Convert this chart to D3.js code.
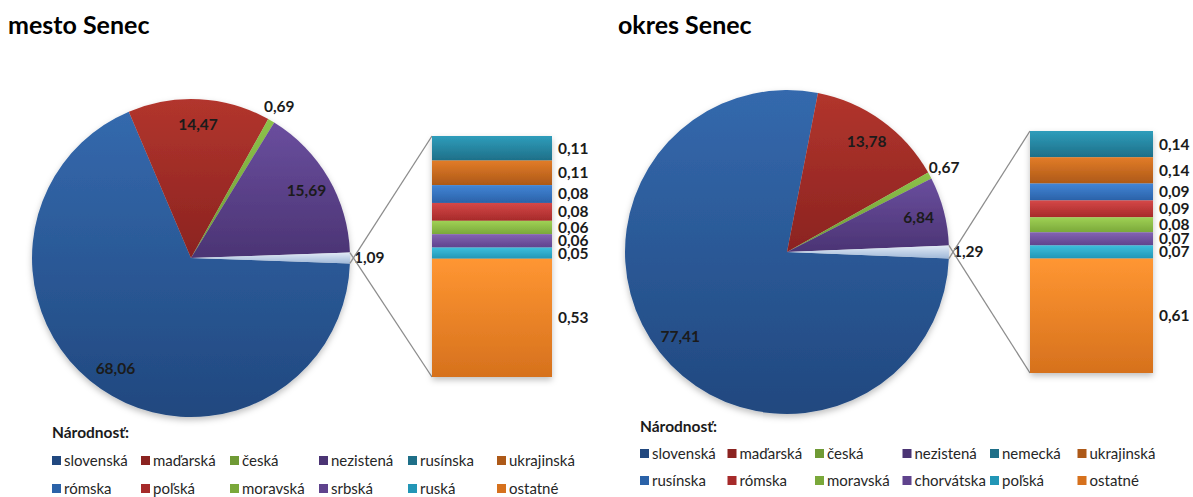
<!DOCTYPE html>
<html lang="sk">
<head>
  <meta charset="UTF-8" />
  <title>Národnosť – mesto Senec, okres Senec</title>
  <script src="https://d3js.org/d3.v7.min.js"></script>
  <style>
    body {
      margin: 0;
      background: #fff;
      font-family: Lato, 'Open Sans', sans-serif;
    }
    svg { display: block; }
    .title { font-weight: 700; font-size: 25px; fill: #000; }
    .lbl { font-weight: 700; font-size: 15.5px; fill: #1b1b1b; }
    .leg { font-size: 15px; fill: #262626; }
    .legtitle { font-weight: 700; font-size: 15.5px; fill: #1b1b1b; }
  </style>
</head>
<body>
  <div id="chart"></div>

  <script>
    // pie part: the last slice is the "other" group that is broken out into the bar
    const pieCats = ["slovenská", "maďarská", "česká", "nezistená", "ostatné spolu"];
    const mestoPie = [68.06, 14.47, 0.69, 15.69, 1.09];
    const okresPie = [77.41, 13.78, 0.67, 6.84, 1.29];

    // bar part (top to bottom)
    const mestoBarCats = ["rusínska", "ukrajinská", "rómska", "poľská", "moravská", "srbská", "ruská", "ostatné"];
    const mestoBar = [0.11, 0.11, 0.08, 0.08, 0.06, 0.06, 0.05, 0.53];
    const okresBarCats = ["nemecká", "ukrajinská", "rusínska", "rómska", "moravská", "chorvátska", "poľská", "ostatné"];
    const okresBar = [0.14, 0.14, 0.09, 0.09, 0.08, 0.07, 0.07, 0.61];

    // colours: [top, bottom] of each gradient
    const pieColors = [["#3469ad", "#21487f"], ["#b2352d", "#8b2320"], ["#8cc24a", "#6f9a35"], ["#6a4e9e", "#4b3474"], ["#e2ebf6", "#9fb8d8"]];
    const barColors = [["#2f9dbb", "#1e6f88"], ["#e27c28", "#ad5918"], ["#4285d6", "#2b62a8"], ["#d54848", "#a62a2a"],
                       ["#9fd155", "#7aa83a"], ["#8463b3", "#5f438d"], ["#3cbfdd", "#2296b6"], ["#ff9632", "#d6711d"]];

    const W = 1193, H = 497;
    const svg = d3.select("#chart").append("svg").attr("width", W).attr("height", H);
    const defs = svg.append("defs");

    const shadow = defs.append("filter").attr("id", "shadow")
      .attr("x", "-10%").attr("y", "-10%").attr("width", "120%").attr("height", "125%");
    shadow.append("feDropShadow").attr("dx", 0).attr("dy", 3).attr("stdDeviation", 3)
      .attr("flood-color", "#000").attr("flood-opacity", 0.25);

    function grad(id, c) {
      const g = defs.append("linearGradient").attr("id", id)
        .attr("x1", 0).attr("y1", 0).attr("x2", 0).attr("y2", 1);
      g.append("stop").attr("offset", "0%").attr("stop-color", c[0]);
      g.append("stop").attr("offset", "100%").attr("stop-color", c[1]);
    }
    pieColors.forEach((c, i) => grad("pg" + i, c));
    barColors.forEach((c, i) => grad("bg" + i, c));

    const fmt = v => v.toFixed(2).replace(".", ",");

    function drawChart(o) {
      const g = svg.append("g");
      g.append("text").attr("class", "title").attr("x", o.titleX).attr("y", 34).text(o.title);

      const total = d3.sum(o.pie);
      const otherAngle = o.pie[o.pie.length - 1] / total * 2 * Math.PI;
      const start = Math.PI / 2 + otherAngle / 2;
      const pie = d3.pie().sort(null).value(d => d).startAngle(start).endAngle(start + 2 * Math.PI);
      const arcs = pie(o.pie);
      const arc = d3.arc().innerRadius(0).outerRadius(o.r);

      const pg = g.append("g").attr("transform", `translate(${o.cx},${o.cy})`);
      pg.append("g").attr("filter", "url(#shadow)")
        .selectAll("path").data(arcs).join("path")
        .attr("d", arc)
        .attr("fill", (d, i) => `url(#pg${i})`);

      // labels: big slices inside, small ones outside
      const inner = d3.arc().innerRadius(o.r * 0.84).outerRadius(o.r * 0.84);
      const outer = d3.arc().innerRadius(o.r * 1.1).outerRadius(o.r * 1.1);
      arcs.forEach((d, i) => {
        const last = i === arcs.length - 1;
        let p, anchor = "middle";
        if (last) { p = [o.r + 4, 0]; anchor = "start"; }
        else if (d.data < 3) p = outer.centroid(d);
        else p = inner.centroid(d);
        pg.append("text").attr("class", "lbl")
          .attr("x", p[0]).attr("y", p[1]).attr("dy", "0.35em")
          .attr("text-anchor", anchor).text(fmt(d.data));
      });

      // bar of the broken-out slice
      const y = d3.scaleLinear().domain([0, d3.sum(o.bar)]).range([o.barTop, o.barTop + o.barH]);
      const stack = d3.cumsum(o.bar);
      const segs = o.bar.map((v, i) => ({ v, y0: stack[i] - v, y1: stack[i], i }));

      // connector lines from slice edge to bar corners
      const last = arcs[arcs.length - 1];
      const ends = [last.startAngle, last.endAngle].map(a => [o.cx + o.r * Math.sin(a), o.cy - o.r * Math.cos(a)]);
      g.append("line").attr("x1", ends[1][0]).attr("y1", ends[1][1]).attr("x2", o.barX).attr("y2", y(0))
        .attr("stroke", "#8c8c8c").attr("stroke-width", 1.3);
      g.append("line").attr("x1", ends[0][0]).attr("y1", ends[0][1]).attr("x2", o.barX).attr("y2", y(d3.sum(o.bar)))
        .attr("stroke", "#8c8c8c").attr("stroke-width", 1.3);

      const bg = g.append("g").attr("filter", "url(#shadow)");
      bg.selectAll("rect").data(segs).join("rect")
        .attr("x", o.barX).attr("width", o.barW)
        .attr("y", d => y(d.y0)).attr("height", d => y(d.y1) - y(d.y0))
        .attr("fill", d => `url(#bg${d.i})`);

      g.selectAll(".blbl").data(segs).join("text")
        .attr("class", "lbl")
        .attr("x", o.barX + o.barW + 6)
        .attr("y", d => (y(d.y0) + y(d.y1)) / 2).attr("dy", "0.35em")
        .text(d => fmt(d.v));

      // legend: pie categories (without the group) followed by bar categories, 6 per row
      const legItems = pieCats.slice(0, 4).map((c, i) => ({ name: c, color: pieColors[i][1] }))
        .concat(o.barCats.map((c, i) => ({ name: c, color: barColors[i][1] })));
      g.append("text").attr("class", "legtitle").attr("x", o.legX).attr("y", o.legY).text("Národnosť:");
      const lg = g.selectAll(".legitem").data(legItems).join("g")
        .attr("transform", (d, i) => `translate(${o.legX + (i % 6) * o.colW},${o.legY + o.rowGap * (1 + Math.floor(i / 6))})`);
      lg.append("rect").attr("x", 0).attr("y", -10).attr("width", 9).attr("height", 9).attr("fill", d => d.color);
      lg.append("text").attr("class", "leg").attr("x", 12).attr("y", 0).text(d => d.name);
    }

    drawChart({
      title: "mesto Senec", titleX: 8,
      pie: mestoPie, cx: 191, cy: 258, r: 159,
      bar: mestoBar, barCats: mestoBarCats, barX: 432, barW: 120, barTop: 136, barH: 241,
      legX: 52, legY: 438, rowGap: 28, colW: 89
    });
    drawChart({
      title: "okres Senec", titleX: 618,
      pie: okresPie, cx: 787, cy: 252, r: 162,
      bar: okresBar, barCats: okresBarCats, barX: 1030, barW: 123, barTop: 131, barH: 242,
      legX: 640, legY: 432, rowGap: 27, colW: 87.5
    });
  </script>
</body>
</html>
